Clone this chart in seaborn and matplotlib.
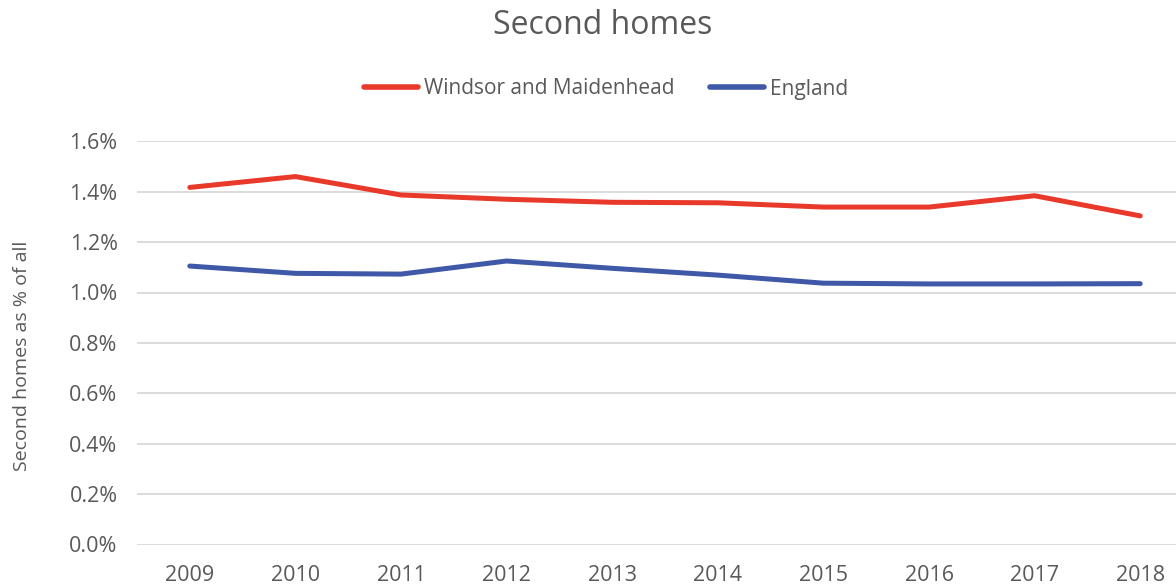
import matplotlib
matplotlib.use("Agg")
import matplotlib.pyplot as plt
import seaborn as sns
import pandas as pd
from matplotlib.ticker import FuncFormatter

years = ["2009", "2010", "2011", "2012", "2013", "2014", "2015", "2016", "2017", "2018"]
windsor = [1.417, 1.460, 1.387, 1.370, 1.358, 1.356, 1.339, 1.339, 1.384, 1.304]
england = [1.105, 1.076, 1.073, 1.125, 1.096, 1.069, 1.037, 1.034, 1.034, 1.035]
series_names = ["Windsor and Maidenhead", "England"]
colors = ["#E8392A", "#3F58A7"]

df = pd.DataFrame({
    "Year": years * 2,
    "Value": windsor + england,
    "Series": [series_names[0]] * len(years) + [series_names[1]] * len(years),
})

sns.set_theme(style="white")
plt.rcParams["font.family"] = ["Open Sans", "DejaVu Sans"]
text_color = "#595959"

fig = plt.figure(figsize=(11.76, 5.88), dpi=100)
ax = fig.add_axes([137 / 1176, 1 - 544.5 / 588, (1193 - 137) / 1176, (544.5 - 141.3) / 588])

sns.lineplot(data=df, x="Year", y="Value", hue="Series", palette=colors,
             linewidth=3.6, ax=ax, sort=False, solid_capstyle="round")

ax.set_ylim(0, 1.6)
ax.set_yticks([0, 0.2, 0.4, 0.6, 0.8, 1.0, 1.2, 1.4, 1.6])
ax.yaxis.set_major_formatter(FuncFormatter(lambda v, p: f"{v:.1f}%"))
ax.set_xlim(-0.5, 9.5)
ax.grid(axis="y", color="#D9D9D9", linewidth=1.3)
ax.set_axisbelow(True)
for s in ax.spines.values():
    s.set_visible(False)
ax.tick_params(axis="both", colors=text_color, labelsize=15.5, length=0)
ax.tick_params(axis="x", pad=15)
ax.tick_params(axis="y", pad=14)
ax.set_xlabel("")
ax.set_ylabel("Second homes as % of all", color=text_color, fontsize=14)
ax.yaxis.set_label_coords(-0.100, 0.468)

leg = ax.legend(loc="center", bbox_to_anchor=(606 / 1176, 1 - 89 / 588),
                bbox_transform=fig.transFigure, ncol=2, frameon=False,
                fontsize=15, handlelength=2.6, handletextpad=0.3, columnspacing=1.7)
for t in leg.get_texts():
    t.set_color(text_color)
for l in leg.get_lines():
    l.set_linewidth(4)

fig.text(603 / 1176, 1 - 25 / 588, "Second homes", ha="center", va="center",
         fontsize=23, color=text_color)

fig.savefig("out.png", dpi=100)
